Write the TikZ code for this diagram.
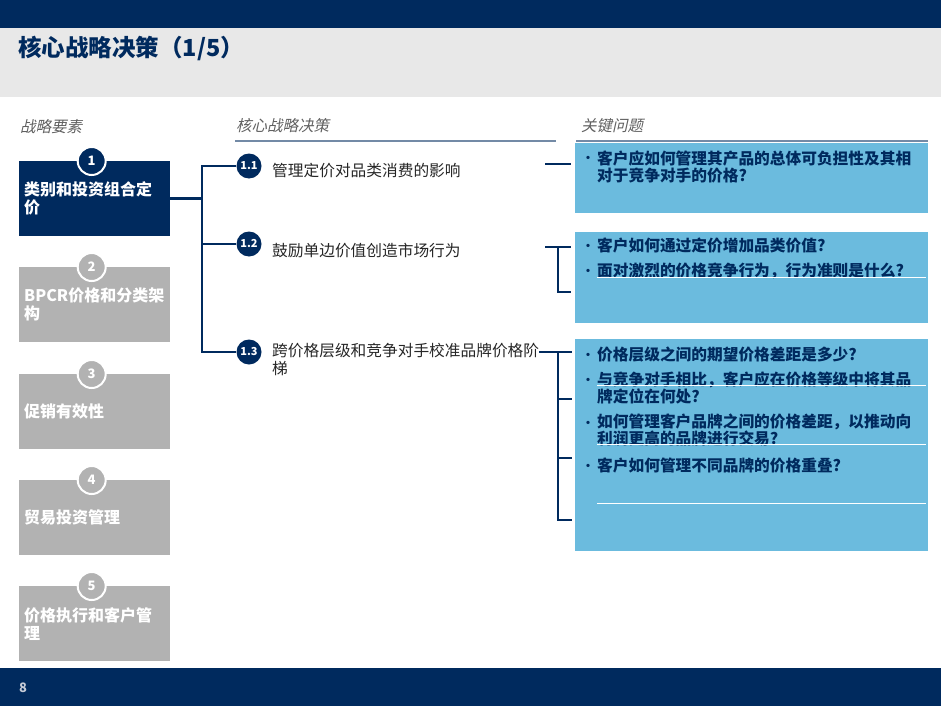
\documentclass[tikz,border=0pt]{standalone}
\usepackage{fontspec}
\setmainfont{Noto Sans CJK SC}
\newfontfamily\hdrfont[FakeSlant=0.22]{Noto Sans CJK SC}
\usetikzlibrary{positioning}
\definecolor{navy}{RGB}{0,42,94}
\definecolor{skyq}{RGB}{107,187,222}
\definecolor{greybox}{RGB}{178,178,178}
\definecolor{band}{RGB}{232,232,232}
\definecolor{hdrgrey}{RGB}{96,96,96}
\definecolor{pagegrey}{RGB}{196,202,214}

\begin{document}
\begin{tikzpicture}[
    x=1pt, y=-1pt,
    conn/.style={draw=navy, line width=2.8pt},
    elem/.style={anchor=north west, minimum width=151pt, minimum height=75pt, text width=141pt, inner xsep=5pt, inner ysep=0pt, align=left, text=white, font=\bfseries\fontsize{16}{18}\selectfont},
    activeelem/.style={elem, fill=navy},
    idleelem/.style={elem, fill=greybox},
    badge/.style={circle, draw=white, line width=2pt, minimum size=28pt, inner sep=0pt, text=white, font=\bfseries\fontsize{13}{13}\selectfont},
    decnum/.style={circle, fill=navy, minimum size=25pt, inner sep=0pt, text=white, font=\bfseries\fontsize{11}{11}\selectfont},
    dectext/.style={anchor=base west, inner sep=0pt, align=left, text=black!85, font=\fontsize{15.7}{18}\selectfont},
    qbox/.style={anchor=north west, fill=skyq, minimum width=353pt, inner sep=0pt},
    qtext/.style={anchor=base west, inner sep=0pt, align=left, text=navy, font=\bfseries\fontsize{15.7}{17}\selectfont},
    qdot/.style={anchor=base west, inner sep=0pt, text=navy, font=\bfseries\fontsize{12}{12}\selectfont},
    head/.style={anchor=west, inner sep=0pt, text=hdrgrey, font=\hdrfont\fontsize{15.5}{17}\selectfont},
    rule/.style={line width=1.2pt, draw=navy!55},
    glare/.style={draw=white, line width=0.8pt}
]
\useasboundingbox (0,0) rectangle (941,706);

% header and footer bands
\fill[navy] (0,0) rectangle (941,28);
\fill[band] (0,28) rectangle (941,97);
\node[anchor=west, inner sep=0pt, text=navy, font=\bfseries\fontsize{23.5}{23.5}\selectfont] (title) at (18,48) {核心战略决策（1/5）};
\fill[navy] (0,668) rectangle (941,706);
\node[anchor=west, inner sep=0pt, text=pagegrey, font=\bfseries\fontsize{13}{13}\selectfont] (pageno) at (19,688) {8};

% column heads
\node[head] (hElem) at (20,127) {战略要素};
\node[head] (hDec) at (236,126) {核心战略决策};
\node[head] (hQ) at (581,126) {关键问题};
\draw[rule] (235,141) -- (556,141);
\draw[rule] (576,141) -- (928,141);

% strategy elements
\node[activeelem] (elem1) at (19,161) {类别和投资组合定\\价};
\node[idleelem] (elem2) at (19,267) {BPCR价格和分类架\\构};
\node[idleelem] (elem3) at (19,374) {促销有效性};
\node[idleelem] (elem4) at (19,480) {贸易投资管理};
\node[idleelem] (elem5) at (19,586) {价格执行和客户管\\理};
\node[badge, fill=navy, xshift=-3pt] (badge1) at (elem1.north) {1};
\node[badge, fill=greybox, xshift=-3pt] (badge2) at (elem2.north) {2};
\node[badge, fill=greybox, xshift=-3pt] (badge3) at (elem3.north) {3};
\node[badge, fill=greybox, xshift=-3pt] (badge4) at (elem4.north) {4};
\node[badge, fill=greybox, xshift=-3pt] (badge5) at (elem5.north) {5};

% core decisions
\node[decnum] (dec11) at (249,166) {1.1};
\node[decnum] (dec12) at (249,244) {1.2};
\node[decnum] (dec13) at (249,352) {1.3};
\node[dectext] (dtxt11) at (272,176) {管理定价对品类消费的影响};
\node[dectext] (dtxt12) at (272,256) {鼓励单边价值创造市场行为};
\node[dectext] (dtxt13) at (272,374) {跨价格层级和竞争对手校准品牌价格阶\\梯};

\coordinate (trunk) at (202,0);
\draw[conn] (elem1.east) -- (trunk |- elem1.east);
\draw[conn] (dec11.west) -| (trunk |- dec13.west) -- (dec13.west);
\draw[conn] (dec12.west) -- (trunk |- dec12.west);

% key questions
\node[qbox, minimum height=70pt] (qbox11) at (575,143) {};
\node[qbox, minimum height=91pt] (qbox12) at (575,232) {};
\node[qbox, minimum height=212pt] (qbox13) at (575,339) {};

\node[qdot] (dotA1) at (582,162) {\textbullet};
\node[qtext] (qA1) at (597,181) {客户应如何管理其产品的总体可负担性及其相\\对于竞争对手的价格?};
\node[qdot] (dotB1) at (582,250) {\textbullet};
\node[qtext] (qB1) at (597,251) {客户如何通过定价增加品类价值?};
\node[qdot] (dotB2) at (582,275) {\textbullet};
\node[qtext] (qB2) at (597,276) {面对激烈的价格竞争行为，行为准则是什么?};
\node[qdot] (dotC1) at (582,359) {\textbullet};
\node[qtext] (qC1) at (597,360) {价格层级之间的期望价格差距是多少?};
\node[qdot] (dotC2) at (582,384) {\textbullet};
\node[qtext] (qC2) at (597,402) {与竞争对手相比，客户应在价格等级中将其品\\牌定位在何处?};
\node[qdot] (dotC3) at (582,427) {\textbullet};
\node[qtext] (qC3) at (597,444) {如何管理客户品牌之间的价格差距，以推动向\\利润更高的品牌进行交易?};
\node[qdot] (dotC4) at (582,470) {\textbullet};
\node[qtext] (qC4) at (597,471) {客户如何管理不同品牌的价格重叠?};

\draw[glare] (597,277) -- (926,277);
\draw[glare] (597,385) -- (926,385);
\draw[glare] (597,444) -- (926,444);
\draw[glare] (597,503) -- (926,503);

% brackets into the question boxes
\coordinate (lead11) at (545,164);
\coordinate (lead12) at (545,247);
\coordinate (spine) at (558,0);
\draw[conn] (lead11) -- ([xshift=-4pt]qbox11.west |- lead11);
\draw[conn] (lead12) -- ([xshift=-4pt]qbox12.west |- lead12);
\draw[conn] (spine |- lead12) |- ([xshift=-4pt]qbox12.west |- 0,292);
\draw[conn] (dtxt13.east |- dec13) -- ([xshift=-3pt]qbox13.west |- dec13);
\draw[conn] (spine |- dec13) |- ([xshift=-3pt]qbox13.west |- 0,520);
\draw[conn] (spine |- 0,399) -- ([xshift=-3pt]qbox13.west |- 0,399);
\draw[conn] (spine |- 0,458) -- ([xshift=-3pt]qbox13.west |- 0,458);
\end{tikzpicture}
\end{document}
